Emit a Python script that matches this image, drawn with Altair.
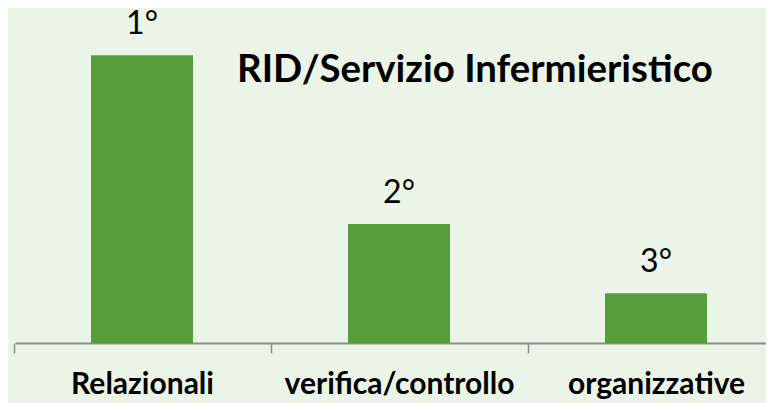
import altair as alt
import pandas as pd

categories = ["Relazionali", "verifica/controllo", "organizzative"]
values = [58, 24, 10]
ranks = ["1°", "2°", "3°"]

df = pd.DataFrame({"cat": categories, "val": values, "rank": ranks})

FONT = "Lato"

x = alt.X(
    "cat:N",
    sort=categories,
    scale=alt.Scale(paddingInner=0.603, paddingOuter=0.2626, align=0.563),
    axis=alt.Axis(
        title=None,
        labelAngle=0,
        labelFont=FONT,
        labelFontWeight="bold",
        labelFontSize=30,
        labelColor="#000000",
        labelBaseline="alphabetic",
        labelPadding=40,
        labelLimit=400,
        labelOffset=128,
        tickOffset=-128,
        domainColor="#8c8c8c",
        domainWidth=2,
        tickColor="#8c8c8c",
        tickWidth=1.5,
        tickSize=10,
    ),
)
y = alt.Y("val:Q", scale=alt.Scale(domain=[0, 67.5], nice=False), axis=None)

bars = alt.Chart(df).mark_bar(color="#559e3b").encode(x=x, y=y)
labels = alt.Chart(df).mark_text(
    font=FONT, fontSize=32, baseline="alphabetic", dy=-21, color="#000000"
).encode(x=x, y=y, text="rank:N")

chart = (
    alt.layer(bars, labels)
    .properties(
        width=751,
        height=335,
        autosize=alt.AutoSizeParams(type="none"),
        padding={"left": 7, "top": 0, "right": 0, "bottom": 60},
        background="#ebf5e7",
        title=alt.TitleParams(
            "RID/Servizio Infermieristico",
            font=FONT,
            fontSize=38.4,
            fontWeight="bold",
            color="#000000",
            anchor="start",
            frame="group",
            baseline="alphabetic",
            dx=222,
            dy=116,
        ),
    )
    .configure_view(stroke=None)
)

chart.save("out.html", embed_options={"renderer": "svg", "actions": False})
